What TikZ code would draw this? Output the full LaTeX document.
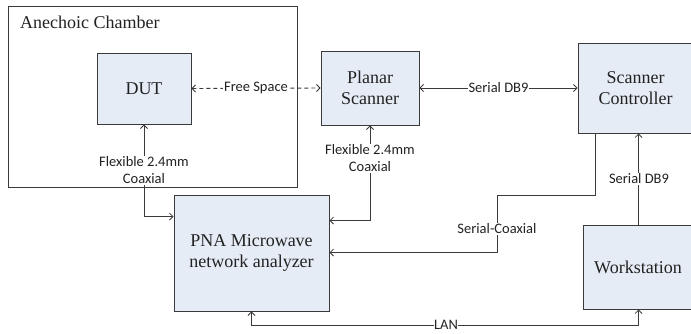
\documentclass[tikz,border=0pt]{standalone}
\usepackage{fontspec}
\setmainfont{Liberation Serif}
\newfontfamily\labfont{Carlito}
\usetikzlibrary{arrows.meta}
\definecolor{boxfill}{HTML}{E6ECF6}
\definecolor{linec}{HTML}{3A3A3A}
\definecolor{txt}{HTML}{222222}
\tikzset{
  blk/.style={draw=linec, line width=0.9pt, fill=boxfill, inner sep=0pt, align=center,
     text=txt, font=\fontsize{18}{20.5}\selectfont},
  conn/.style={draw=linec, line width=0.9pt, arrows={-}},
  tip/.tip={Straight Barb[length=3.5pt,width=7pt,line width=0.8pt]},
  lbl/.style={fill=white, inner sep=1pt, align=center, text=txt,
     font=\labfont\fontsize{14.5}{17}\selectfont},
}
\begin{document}
\begin{tikzpicture}[x=1pt,y=-1pt]
\useasboundingbox (0,0) rectangle (691,333);
% chamber
\node[draw=linec, line width=0.9pt, minimum width=289pt, minimum height=181pt, inner sep=0pt] (chamber) at (152.5,96.5) {};
\node[anchor=west, text=txt, font=\fontsize{18}{20.5}\selectfont, inner sep=0pt] (chtitle) at (20,22) {Anechoic Chamber};
% boxes
\node[blk, minimum width=94pt, minimum height=71pt] (dut) at (144,88.5) {DUT};
\node[blk, minimum width=98pt, minimum height=74pt] (planar) at (370,88) {Planar\\Scanner};
\node[blk, minimum width=115pt, minimum height=90pt] (sc) at (635.5,88) {Scanner\\Controller};
\node[blk, minimum width=155pt, minimum height=116pt] (pna) at (251.5,253) {PNA Microwave\\network analyzer};
\node[blk, minimum width=110pt, minimum height=84pt] (ws) at (638,267) {Workstation};
% helper coordinates
\coordinate (pnaL) at ([yshift=-22pt]pna.north west);
\coordinate (pnaR) at ([yshift=-26pt]pna.north east);
\coordinate (pnaR2) at ([yshift=-58pt]pna.north east);
\coordinate (scB1) at ([xshift=18pt]sc.south west);
\coordinate (scB2) at ([xshift=61pt]sc.south west);
\coordinate (wsT) at ([xshift=56pt]ws.north west);
\coordinate (wsB) at ([xshift=56pt]ws.south west);
\coordinate (pnaB) at (pna.south);
\coordinate (lanY) at ([yshift=-14pt]pna.south);
\coordinate (scK1) at ([yshift=-62pt]scB1);
\coordinate (scK2) at (497,0 |- scK1);
% connectors
\draw[conn, {tip}-{tip}] (dut.south) |- (pnaL);
\node[lbl] (l1) at (144,170.5) {Flexible 2.4mm\\Coaxial};
\draw[conn, {tip}-{tip}] (planar.south) |- (pnaR);
\node[lbl] (l2) at (370,158.5) {Flexible 2.4mm\\Coaxial};
\draw[conn, dashed, dash pattern=on 4pt off 3pt, {tip}-{tip}] (dut.east) -- (planar.west)
   node[lbl, midway, solid] (l3) {Free Space};
\draw[conn, {tip}-{tip}] (planar.east) -- (planar.east -| sc.west)
   node[lbl, midway] (l4) {Serial DB9};
\draw[conn, -{tip}] (scB1) -- (scK1) -- (scK2) -- (scK2 |- pnaR2) -- (pnaR2);
\node[lbl] (l5) at (497,229) {Serial-Coaxial};
\draw[conn, -{tip}] (wsT) -- (scB2 |- sc.south);
\node[lbl] (l6) at (639,179) {Serial DB9};
\draw[conn, {tip}-{tip}] (pnaB) -- (lanY) -| (wsB);
\node[lbl, inner sep=0.5pt] (l7) at (446,325) {LAN};
\end{tikzpicture}
\end{document}
